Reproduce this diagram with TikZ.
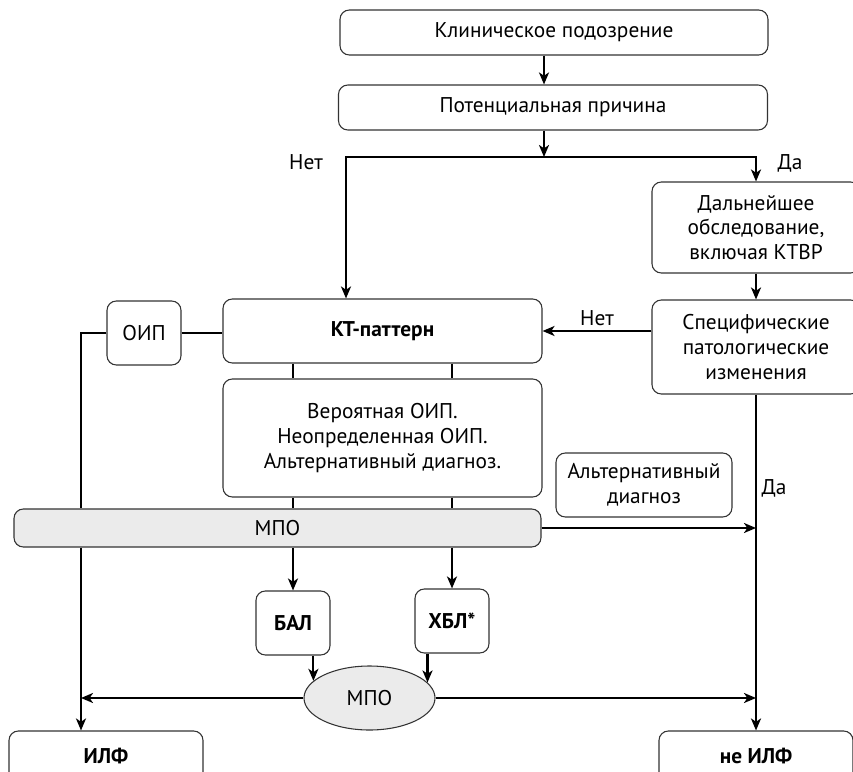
\documentclass[tikz,border=0pt]{standalone}
\usepackage{fontspec}
\setmainfont{PT Sans}
\usetikzlibrary{shapes.geometric,arrows.meta}

\begin{document}
\begin{tikzpicture}[x=0.75pt, y=-0.75pt,
    box/.style={draw=black!80, line width=0.8pt, rounded corners=7pt, align=center, inner sep=0pt, font=\fontsize{16}{18.5}\selectfont},
    greybox/.style={box, fill=black!8},
    conn/.style={line width=1.6pt, -{Stealth[length=9pt,width=7.5pt,inset=2.5pt]}},
    link/.style={line width=1.6pt},
    lbl/.style={font=\fontsize{16}{18.5}\selectfont}]
  \useasboundingbox (0,0) rectangle (853,771);

  \node[box, minimum width=321pt, minimum height=33.75pt] at (554,32.5) (clin) {Клиническое подозрение};
  \node[box, minimum width=321.75pt, minimum height=33.75pt] at (553,107.5) (cause) {Потенциальная причина};
  \coordinate (split) at (544,157);
  \coordinate (nL) at (346,157);
  \coordinate (lx) at (81,0);
  \node[box, minimum width=156pt, minimum height=68.25pt] at (756,227.5) (exam) {Дальнейшее\\обследование,\\включая КТВР};
  \node[box, minimum width=156pt, minimum height=70.5pt] at (756,347) (spec) {Специфические\\патологические\\изменения};
  \node[box, minimum width=239.25pt, minimum height=48pt] at (382.5,331) (kt) {\textbf{КТ-паттерн}};
  \node[box, minimum width=239.25pt, minimum height=88.5pt] at (382.5,438) (prob) {Вероятная ОИП.\\Неопределенная ОИП.\\Альтернативный диагноз.};
  \node[box, minimum width=55.5pt, minimum height=48pt] at (144,333) (oip) {ОИП};
  \node[greybox, minimum width=395.25pt, minimum height=28.5pt] at (277.5,528) (mpo) {МПО};
  \node[box, minimum width=132pt, minimum height=48pt] at (644,485) (alt) {Альтернативный\\диагноз};
  \node[box, minimum width=55.5pt, minimum height=48pt] at (293,623) (bal) {\textbf{БАЛ}};
  \node[box, minimum width=55.5pt, minimum height=48pt] at (452,621) (hbl) {\textbf{ХБЛ*}};
  \node[greybox, ellipse, minimum width=98.25pt, minimum height=48pt] at (369.5,698) (mpo2) {МПО};
  \node[box, minimum width=145.5pt, minimum height=37.5pt] at (106,756) (ilf) {\textbf{ИЛФ}};
  \node[box, minimum width=145.5pt, minimum height=37.5pt] at (756,756) (nilf) {\textbf{не ИЛФ}};

  \node[lbl] at (306,162) (no1) {Нет};
  \node[lbl] at (790,163) (yes1) {Да};

  \draw[conn] (clin.south -| split) -- (cause.north -| split);
  \draw[conn] (cause.south -| split) -- (split);
  \draw[conn] (split) -| (kt.north -| nL);
  \draw[conn] (split) -| (exam.north);
  \draw[conn] (exam.south) -- (spec.north);
  \draw[conn] (kt.east -| spec.west) -- (kt.east) node[midway, above, lbl] (no2) {Нет};
  \draw[link] (oip.east) -- (oip.east -| kt.west);
  \draw[link] (oip.west) -| (mpo.north -| lx);
  \draw[conn] (mpo.south -| lx) -- (ilf.north -| lx);
  \draw[link] (kt.south -| bal) -- (prob.north -| bal);
  \draw[link] (kt.south -| hbl) -- (prob.north -| hbl);
  \draw[link] (prob.south -| bal) -- (mpo.north -| bal);
  \draw[link] (prob.south -| hbl) -- (mpo.north -| hbl);
  \draw[conn] (mpo.south -| bal) -- (bal.north);
  \draw[conn] (mpo.south -| hbl) -- (hbl.north);
  \draw[conn] (bal.south -| mpo2.163) -- (mpo2.163);
  \draw[conn] (hbl.south -| mpo2.15) -- (mpo2.15);
  \draw[conn] (mpo2.west) -- (mpo2.west -| lx);
  \draw[conn] (mpo2.east) -- (mpo2.east -| spec.south);
  \draw[conn] (mpo.east) -- (mpo.east -| spec.south);
  \draw[conn] (spec.south) -- (nilf.north) node[pos=0.28, right, lbl] (yes2) {Да};
\end{tikzpicture}
\end{document}
